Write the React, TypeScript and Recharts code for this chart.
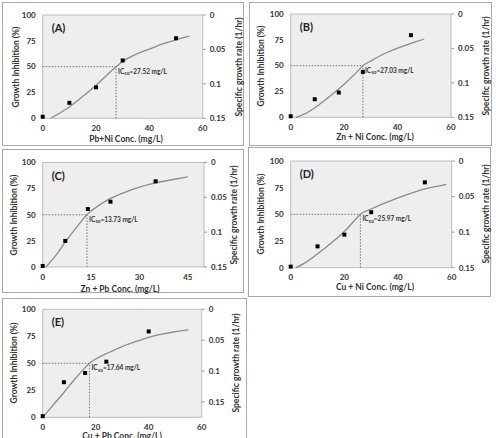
import React from 'react';
import { ComposedChart, Line, Scatter, XAxis, YAxis, ReferenceLine, ReferenceArea } from 'recharts';

// ---------- data ----------
// Panel A: Pb + Ni
const aPointX = [0, 10, 20, 30, 50];
const aPointY = [1.5, 15, 30, 56, 77.5];
const aCurveX = [3, 5, 10, 15, 20, 25, 27.52, 30, 35, 40, 45, 50, 55];
const aCurveY = [0, 3, 11, 21, 32, 44, 50, 55, 62, 67, 72, 76, 79.5];
const aIC50 = 27.52;

// Panel B: Zn + Ni
const bPointX = [0, 9, 18, 27, 45];
const bPointY = [1, 17.5, 24, 44, 79.5];
const bCurveX = [2, 5, 10, 15, 20, 25, 27.03, 30, 35, 40, 45, 50];
const bCurveY = [0, 3, 11, 21, 32, 44.5, 50, 54.5, 61.5, 67, 71.5, 75.8];
const bIC50 = 27.03;

// Panel C: Zn + Pb
const cPointX = [0, 7, 14, 21, 35];
const cPointY = [1, 25, 55.5, 62.5, 82];
const cCurveX = [1, 3, 5, 7, 10, 13.73, 15, 20, 25, 30, 35, 40, 45];
const cCurveY = [0, 7, 15, 24, 36, 50, 53.5, 64, 71, 76.5, 80.5, 83.5, 86.3];
const cIC50 = 13.73;

// Panel D: Cu + Ni
const dPointX = [0, 10, 20, 30, 50];
const dPointY = [1, 20, 31, 52, 80];
const dCurveX = [2, 5, 10, 15, 20, 25, 25.97, 30, 35, 40, 45, 50, 55, 58];
const dCurveY = [0, 4, 13, 23, 34, 47.5, 50, 55, 60.5, 65.5, 70, 73.8, 76.5, 78];
const dIC50 = 25.97;

// Panel E: Cu + Pb
const ePointX = [0, 8, 16, 24, 40];
const ePointY = [1, 32.5, 41, 51.5, 79.5];
const eCurveX = [0, 4, 8, 12, 16, 17.64, 20, 25, 30, 35, 40, 45, 50, 55];
const eCurveY = [0, 11.5, 23, 35, 46, 50, 54, 60, 65.5, 70, 74, 77, 79.2, 81];
const eIC50 = 17.64;

// axes / labels
const xTicks60 = [0, 20, 40, 60];
const xTicks50 = [0, 15, 30, 45];
const leftTicks = [0, 25, 50, 75, 100];
const rightTicks = [0, 0.05, 0.1, 0.15];
const panelLetters = ['(A)', '(B)', '(C)', '(D)', '(E)'];
const xTitles = [
  'Pb+Ni Conc. (mg/L)',
  'Zn + Ni Conc. (mg/L)',
  'Zn + Pb Conc. (mg/L)',
  'Cu + Ni Conc. (mg/L)',
  'Cu + Pb Conc. (mg/L)',
];
const leftTitle = 'Growth Inhibition (%)';
const rightTitle = 'Specific growth rate (1/hr)';

const zip = (xs: number[], ys: number[]) => xs.map((x, i) => ({ x, y: ys[i] }));

const FONT = 'Lato, "Open Sans", sans-serif';
const TXT = '#333333';

type Box = { x: number; y: number; w: number; h: number };
type Plot = { l: number; t: number; r: number; b: number };

interface PanelCfg {
  letter: string;
  xTitle: string;
  points: { x: number; y: number }[];
  curve: { x: number; y: number }[];
  ic50: number;
  xMax: number;
  xTicks: number[];
  rMax: number;
  frame: Box;
  plot: Plot;
  xTitleX: number;
  xTitleY: number;
  leftTitleX: number;
  rightTitleX: number;
}

const panels: PanelCfg[] = [
  {
    letter: panelLetters[0], xTitle: xTitles[0], points: zip(aPointX, aPointY), curve: zip(aCurveX, aCurveY),
    ic50: aIC50, xMax: 60, xTicks: xTicks60, rMax: 0.15,
    frame: { x: 2, y: 2, w: 242, h: 144 }, plot: { l: 42.7, t: 15, r: 202.7, b: 118.3 },
    xTitleX: 126, xTitleY: 138.5, leftTitleX: 16, rightTitleX: 239,
  },
  {
    letter: panelLetters[1], xTitle: xTitles[1], points: zip(bPointX, bPointY), curve: zip(bCurveX, bCurveY),
    ic50: bIC50, xMax: 60, xTicks: xTicks60, rMax: 0.15,
    frame: { x: 249, y: 2, w: 243, h: 144 }, plot: { l: 290.7, t: 14, r: 451, b: 117.3 },
    xTitleX: 375, xTitleY: 137, leftTitleX: 261, rightTitleX: 485.5,
  },
  {
    letter: panelLetters[2], xTitle: xTitles[2], points: zip(cPointX, cPointY), curve: zip(cCurveX, cCurveY),
    ic50: cIC50, xMax: 50, xTicks: xTicks50, rMax: 0.15,
    frame: { x: 2, y: 149, w: 242, h: 144 }, plot: { l: 42.7, t: 162.5, r: 204, b: 267 },
    xTitleX: 120, xTitleY: 289, leftTitleX: 14, rightTitleX: 234,
  },
  {
    letter: panelLetters[3], xTitle: xTitles[3], points: zip(dPointX, dPointY), curve: zip(dCurveX, dCurveY),
    ic50: dIC50, xMax: 60, xTicks: xTicks60, rMax: 0.15,
    frame: { x: 248, y: 147, w: 243, h: 150 }, plot: { l: 290.7, t: 161, r: 451.7, b: 267.7 },
    xTitleX: 375, xTitleY: 287, leftTitleX: 261, rightTitleX: 485.5,
  },
  {
    letter: panelLetters[4], xTitle: xTitles[4], points: zip(ePointX, ePointY), curve: zip(eCurveX, eCurveY),
    ic50: eIC50, xMax: 60, xTicks: xTicks60, rMax: 0.175,
    frame: { x: 2, y: 298, w: 245, h: 150 }, plot: { l: 42.7, t: 309.3, r: 201.7, b: 417.3 },
    xTitleX: 122, xTitleY: 436.2, leftTitleX: 14, rightTitleX: 236,
  },
];

const tickStyle = { fontSize: 8, fontWeight: 700, fill: TXT, fontFamily: FONT };

const squareShape = (props: any) => {
  const { cx, cy } = props;
  if (cx == null || cy == null) return <g />;
  return <rect x={cx - 2} y={cy - 2} width={4} height={4} fill="#000" />;
};

const icLabel = (val: number) => (props: any) => {
  const vb = props.viewBox || {};
  const x = (vb.x ?? 0) + 2;
  const y = (vb.y ?? 0) + 7;
  return (
    <text x={x} y={y} fontFamily={FONT} fontWeight={700} fontSize={6.5} fill="#333">
      IC<tspan fontSize={4.5} dy={1.5}>50</tspan>
      <tspan dy={-1.5}>{`=${val.toFixed(2)} mg/L`}</tspan>
    </text>
  );
};

const letterLabel = (letter: string) => (props: any) => {
  const vb = props.viewBox || {};
  return (
    <text x={(vb.x ?? 0) + 9} y={(vb.y ?? 0) + 17} fontFamily={FONT} fontWeight={700} fontSize={11} fill="#222">
      {letter}
    </text>
  );
};

const textBase: React.CSSProperties = {
  position: 'absolute',
  fontFamily: FONT,
  fontWeight: 700,
  color: TXT,
  whiteSpace: 'nowrap',
  lineHeight: 1,
};

function Panel({ cfg }: { cfg: PanelCfg }) {
  const { frame, plot } = cfg;
  const LW = 30;
  const RW = 30;
  const XH = 20;
  const margin = {
    left: plot.l - frame.x - LW,
    right: frame.x + frame.w - plot.r - RW,
    top: plot.t - frame.y,
    bottom: frame.y + frame.h - plot.b - XH,
  };
  const midY = (plot.t + plot.b) / 2;
  return (
    <>
      <div
        style={{
          position: 'absolute',
          left: frame.x,
          top: frame.y,
          width: frame.w,
          height: frame.h,
          border: '1.5px solid #a9a9a9',
          boxSizing: 'border-box',
        }}
      />
      <div style={{ position: 'absolute', left: frame.x, top: frame.y }}>
        <ComposedChart width={frame.w} height={frame.h} margin={margin}>
          <XAxis
            type="number"
            dataKey="x"
            domain={[0, cfg.xMax]}
            ticks={cfg.xTicks}
            height={XH}
            axisLine={false}
            tickLine={false}
            tickSize={4}
            tickMargin={3}
            tick={tickStyle}
            interval={0}
          />
          <YAxis
            yAxisId="left"
            type="number"
            domain={[0, 100]}
            ticks={leftTicks}
            width={LW}
            axisLine={false}
            tickLine={false}
            tickSize={4}
            tickMargin={3}
            tick={tickStyle}
            interval={0}
          />
          <YAxis
            yAxisId="right"
            orientation="right"
            type="number"
            domain={[0, cfg.rMax]}
            reversed
            ticks={rightTicks}
            width={RW}
            axisLine={false}
            tickLine={{ stroke: '#9a9a9a' }}
            tickSize={3}
            tickMargin={4}
            tick={tickStyle}
            tickFormatter={(v: number) => String(v)}
            interval={0}
            allowDataOverflow
          />
          <ReferenceArea
            yAxisId="left"
            x1={0}
            x2={cfg.xMax}
            y1={0}
            y2={100}
            fill="#eeeeee"
            fillOpacity={1}
            stroke="#bdbdbd"
            strokeWidth={1}
            label={letterLabel(cfg.letter)}
          />
          <ReferenceLine
            yAxisId="left"
            segment={[{ x: 0, y: 50 }, { x: cfg.ic50, y: 50 }]}
            stroke="#555"
            strokeWidth={0.8}
            strokeDasharray="1.5 1.5"
          />
          <ReferenceLine
            yAxisId="left"
            segment={[{ x: cfg.ic50, y: 0 }, { x: cfg.ic50, y: 50 }]}
            stroke="#555"
            strokeWidth={0.8}
            strokeDasharray="1.5 1.5"
            label={icLabel(cfg.ic50)}
          />
          <Line
            yAxisId="left"
            data={cfg.curve}
            dataKey="y"
            type="monotone"
            stroke="#8c8c8c"
            strokeWidth={1.3}
            dot={false}
            activeDot={false}
            isAnimationActive={false}
          />
          <Scatter
            yAxisId="left"
            data={cfg.points}
            dataKey="y"
            shape={squareShape}
            isAnimationActive={false}
          />
        </ComposedChart>
      </div>
      <div style={{ ...textBase, fontSize: 8.5, left: cfg.xTitleX, top: cfg.xTitleY, transform: 'translate(-50%, -50%)' }}>
        {cfg.xTitle}
      </div>
      <div
        style={{
          ...textBase,
          fontSize: 8.5,
          left: cfg.leftTitleX,
          top: midY,
          transform: 'translate(-50%, -50%) rotate(-90deg)',
        }}
      >
        {leftTitle}
      </div>
      <div
        style={{
          ...textBase,
          fontSize: 8.5,
          left: cfg.rightTitleX,
          top: midY,
          transform: 'translate(-50%, -50%) rotate(-90deg)',
        }}
      >
        {rightTitle}
      </div>
    </>
  );
}

export default function App() {
  return (
    <div
      style={{
        position: 'absolute',
        left: 0,
        top: 0,
        width: 496,
        height: 438,
        overflow: 'hidden',
        background: '#fff',
      }}
    >
      {panels.map((p) => (
        <Panel key={p.letter} cfg={p} />
      ))}
    </div>
  );
}
